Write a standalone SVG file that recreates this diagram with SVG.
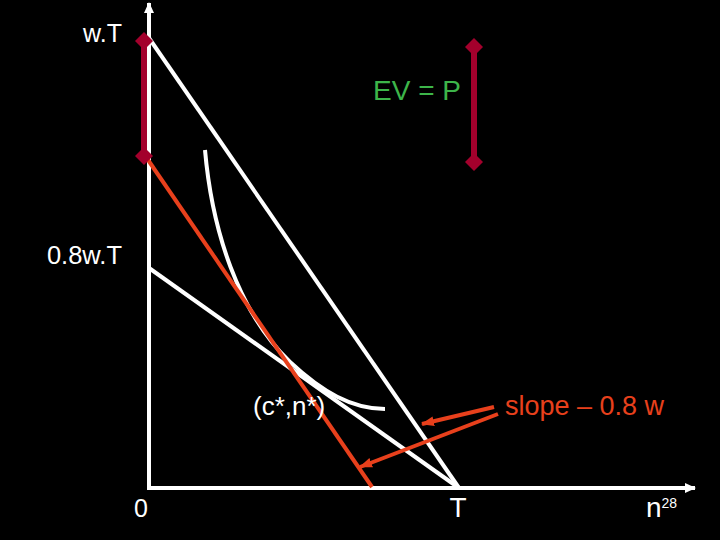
<svg xmlns="http://www.w3.org/2000/svg" width="720" height="540" viewBox="0 0 720 540">
<defs>
<marker id="ah" markerWidth="12" markerHeight="12" refX="10" refY="6" orient="auto" markerUnits="userSpaceOnUse">
<path d="M0,1 L11,6 L0,11 z" fill="#ffffff"/>
</marker>
<marker id="rh" markerWidth="14" markerHeight="12" refX="12" refY="6" orient="auto" markerUnits="userSpaceOnUse">
<path d="M0,1 L13,6 L0,11 z" fill="#e8401c"/>
</marker>
<marker id="dm" markerWidth="18" markerHeight="18" refX="9" refY="9" orient="auto" markerUnits="userSpaceOnUse">
<path d="M0,9 L9,0 L18,9 L9,18 z" fill="#a3002c"/>
</marker>
</defs>
<style>
.t{font-family:"Liberation Sans",Arial,sans-serif;fill:#ffffff}
.w{stroke:#ffffff;stroke-width:4;fill:none}
.r{stroke:#e8401c;stroke-width:4;fill:none}
.bar{stroke:#a3002c;stroke-width:6;fill:none;marker-start:url(#dm);marker-end:url(#dm)}
</style>
<rect width="720" height="540" fill="#000000"/>
<g id="connectors">
<line class="w" x1="149" y1="490" x2="149" y2="3" marker-end="url(#ah)"/>
<line class="w" x1="147" y1="488" x2="695" y2="488" marker-end="url(#ah)"/>
<line class="w" x1="149" y1="38" x2="459" y2="488"/>
<line class="w" x1="149" y1="268" x2="459" y2="488"/>
<path class="w" d="M205,150 C212,230 238,312 290,362 C322,392 352,409 385,409"/>
<line class="r" x1="146" y1="157" x2="372" y2="487"/>
<line class="r" x1="494" y1="407" x2="422" y2="424" marker-end="url(#rh)"/>
<line class="r" x1="498" y1="414" x2="360" y2="467" marker-end="url(#rh)"/>
</g>
<g id="bar-left"><line class="bar" x1="144" y1="41" x2="144" y2="156"/></g>
<g id="bar-right"><line class="bar" x1="474" y1="47" x2="474" y2="162"/></g>
<g id="labels">
<text class="t" x="122" y="42" font-size="25" text-anchor="end">w.T</text>
<text class="t" x="122" y="264" font-size="25.5" text-anchor="end">0.8w.T</text>
<text class="t" x="373" y="100" font-size="28" style="fill:#3db54a">EV = P</text>
<text class="t" x="253" y="415" font-size="26">(c*,n*)</text>
<text class="t" x="505" y="415" font-size="27" style="fill:#e8401c">slope – 0.8 w</text>
<text class="t" x="141" y="517" font-size="25" text-anchor="middle">0</text>
<text class="t" x="458" y="517" font-size="28" text-anchor="middle">T</text>
<text class="t" x="646" y="517" font-size="28">n<tspan font-size="14" dy="-9">28</tspan></text>
</g>
</svg>
